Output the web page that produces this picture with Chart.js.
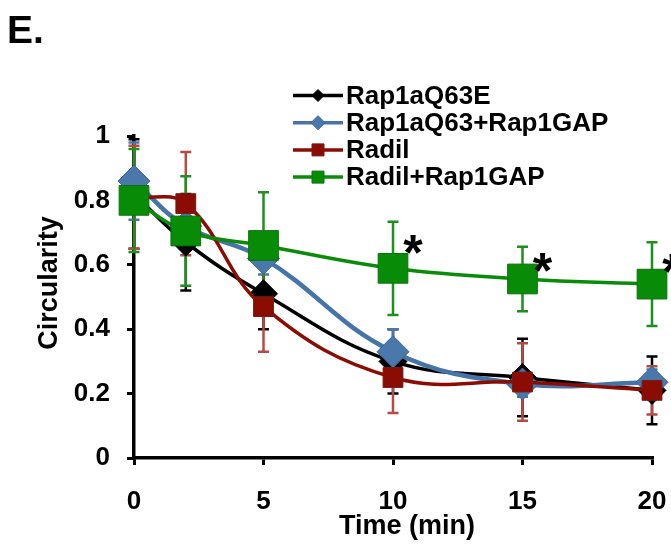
<!DOCTYPE html>
<html>
<head>
<meta charset="utf-8">
<script src="https://cdn.jsdelivr.net/npm/chart.js@4.4.1/dist/chart.umd.min.js"></script>
<style>
	html, body { margin: 0; padding: 0; background: #fff; }
	#cv { display: block; }
</style>
</head>
<body>
<canvas id="cv" width="671" height="544"></canvas>
<script>
'use strict'

// time points (min)
const times = [0, 2, 5, 10, 15, 20];

// mean circularity and error
const rap1aQ63E = [0.82, 0.67, 0.51, 0.30, 0.25, 0.21];
const rap1aQ63EErr = [0.17, 0.15, 0.11, 0.10, 0.12, 0.105];

const rap1aQ63Gap = [0.86, 0.72, 0.62, 0.33, 0.23, 0.235];
const rap1aQ63GapErr = [0.12, 0.06, 0.05, 0.07, 0.04, 0.04];

const radil = [0.81, 0.79, 0.47, 0.25, 0.236, 0.21];
const radilErr = [0.16, 0.16, 0.14, 0.11, 0.12, 0.075];

const radilGap = [0.80, 0.705, 0.66, 0.589, 0.556, 0.54];
const radilGapErr = [0.16, 0.17, 0.165, 0.145, 0.10, 0.13];

// points marked significant (*) on Radil+Rap1GAP
const sigIdx = [3, 4, 5];

const yTicks = [0, 0.2, 0.4, 0.6, 0.8, 1];
const xTicks = [0, 5, 10, 15, 20];

const FONT = "'Liberation Sans', Arial, sans-serif";

function toXY(vals) {
	return vals.map((v, i) => ({ x: times[i], y: v }));
}

// legend / error bar styling per series
const seriesInfo = [
	{ label: 'Rap1aQ63E', vals: rap1aQ63E, err: rap1aQ63EErr, line: '#000000', fill: '#000000', edge: '#000000', errColor: '#000000', shape: 'diamond', lr: 6 },
	{ label: 'Rap1aQ63+Rap1GAP', vals: rap1aQ63Gap, err: rap1aQ63GapErr, line: '#4674a8', fill: '#4a78ab', edge: '#3b6496', errColor: '#4a78ab', shape: 'diamond', lr: 7 },
	{ label: 'Radil', vals: radil, err: radilErr, line: '#8a0c02', fill: '#8a0c02', edge: '#7a1a10', errColor: '#b84a46', shape: 'square', lr: 6 },
	{ label: 'Radil+Rap1GAP', vals: radilGap, err: radilGapErr, line: '#0a8c0a', fill: '#088c08', edge: '#0a720a', errColor: '#1e901e', shape: 'square', lr: 6 }
];

//----------------------------------------------------------------------
// plugin: error bars behind the lines
const errorBars = {
	id: 'errorBars',
	beforeDatasetsDraw(chart) {
		const ctx = chart.ctx;
		const xs = chart.scales.x, ys = chart.scales.y;
		ctx.save();
		ctx.lineWidth = 2.5;
		seriesInfo.forEach((s) => {
			ctx.strokeStyle = s.errColor;
			s.vals.forEach((v, i) => {
				const px = xs.getPixelForValue(times[i]);
				const top = ys.getPixelForValue(v + s.err[i]);
				const bot = ys.getPixelForValue(v - s.err[i]);
				ctx.beginPath();
				ctx.moveTo(px, top); ctx.lineTo(px, bot);
				ctx.moveTo(px - 5.5, top); ctx.lineTo(px + 5.5, top);
				ctx.moveTo(px - 5.5, bot); ctx.lineTo(px + 5.5, bot);
				ctx.stroke();
			});
		});
		ctx.restore();
	}
};

//----------------------------------------------------------------------
// plugin: panel letter, axis titles, legend, asterisks
const decorations = {
	id: 'decorations',
	afterDraw(chart) {
		const ctx = chart.ctx;
		const xs = chart.scales.x, ys = chart.scales.y;
		const area = chart.chartArea;
		ctx.save();
		ctx.fillStyle = '#000';

		// panel letter
		ctx.font = 'bold 39px ' + FONT;
		ctx.textAlign = 'left';
		ctx.textBaseline = 'alphabetic';
		ctx.fillText('E.', 7, 43);

		// axis titles
		ctx.font = 'bold 27px ' + FONT;
		ctx.textAlign = 'center';
		ctx.fillText('Time (min)', area.left + (area.right - area.left) / 2 + 14, 534);
		ctx.save();
		ctx.translate(57, area.top + (area.bottom - area.top) / 2 - 14);
		ctx.rotate(-Math.PI / 2);
		ctx.fillText('Circularity', 0, 0);
		ctx.restore();

		// asterisks
		ctx.font = 'bold 50px ' + FONT;
		const m = ctx.measureText('*');
		const inkMid = (m.actualBoundingBoxAscent - m.actualBoundingBoxDescent) / 2;
		sigIdx.forEach((i) => {
			const px = xs.getPixelForValue(times[i]) + 20;
			const py = ys.getPixelForValue(radilGap[i] + radilGapErr[i] / 2);
			ctx.fillText('*', px, py + inkMid);
		});

		// legend
		const lx0 = 293, lx1 = 343, ly0 = 95.5, lstep = 27.2;
		ctx.font = 'bold 26px ' + FONT;
		ctx.textAlign = 'left';
		ctx.textBaseline = 'middle';
		seriesInfo.forEach((s, k) => {
			const y = ly0 + k * lstep;
			const cx = (lx0 + lx1) / 2;
			ctx.strokeStyle = s.line;
			ctx.lineWidth = 3.5;
			ctx.beginPath();
			ctx.moveTo(lx0, y); ctx.lineTo(lx1, y);
			ctx.stroke();
			ctx.fillStyle = s.fill;
			ctx.strokeStyle = s.edge;
			ctx.lineWidth = 1;
			ctx.beginPath();
			if (s.shape === 'diamond') {
				ctx.moveTo(cx, y - s.lr); ctx.lineTo(cx + s.lr, y);
				ctx.lineTo(cx, y + s.lr); ctx.lineTo(cx - s.lr, y);
				ctx.closePath();
			} else {
				ctx.rect(cx - s.lr, y - s.lr, 2 * s.lr, 2 * s.lr);
			}
			ctx.fill();
			ctx.stroke();
			ctx.fillStyle = '#000';
			ctx.fillText(s.label, 346, y + 1);
		});
		ctx.restore();
	}
};

//----------------------------------------------------------------------
const datasets = [
	{
		label: 'Rap1aQ63E', data: toXY(rap1aQ63E), order: 4,
		borderColor: '#000000', borderWidth: 3.5,
		pointStyle: 'rectRot', pointRadius: 14, pointBackgroundColor: '#000000', pointBorderColor: '#000000', pointBorderWidth: 1
	},
	{
		label: 'Rap1aQ63+Rap1GAP', data: toXY(rap1aQ63Gap), order: 3,
		borderColor: '#4674a8', borderWidth: 4.5,
		pointStyle: 'rectRot', pointRadius: 16, pointBackgroundColor: '#4a78ab', pointBorderColor: '#3b6496', pointBorderWidth: 1
	},
	{
		label: 'Radil', data: toXY(radil), order: 2,
		borderColor: '#8a0c02', borderWidth: 3.5,
		pointStyle: 'rect', pointRadius: 14, pointBackgroundColor: '#8a0c02', pointBorderColor: '#7a1a10', pointBorderWidth: 1
	},
	{
		label: 'Radil+Rap1GAP', data: toXY(radilGap), order: 1,
		borderColor: '#0a8c0a', borderWidth: 3.5,
		pointStyle: 'rect', pointRadius: 21, pointBackgroundColor: '#088c08', pointBorderColor: '#0a720a', pointBorderWidth: 1
	}
];

const axisFont = { family: FONT, weight: 'bold', size: 26 };

const chart = new Chart(document.getElementById('cv').getContext('2d'), {
	type: 'line',
	data: { datasets: datasets },
	options: {
		responsive: false,
		animation: false,
		devicePixelRatio: 1,
		layout: { autoPadding: false, padding: { top: 136, right: 19, left: 0, bottom: 0 } },
		elements: { line: { tension: 0.4, fill: false } },
		datasets: { line: { clip: false } },
		plugins: {
			legend: { display: false },
			tooltip: { enabled: false },
			title: { display: false }
		},
		scales: {
			x: {
				type: 'linear', min: 0, max: 20,
				afterBuildTicks: (s) => { s.ticks = xTicks.map((v) => ({ value: v })); },
				afterFit: (s) => { s.height = 86; s.paddingLeft = 0; s.paddingRight = 0; },
				ticks: { font: axisFont, color: '#000', padding: 21, maxRotation: 0 },
				grid: { drawOnChartArea: false, drawTicks: true, tickLength: 7, color: '#000', lineWidth: 3 },
				border: { display: true, color: '#000', width: 3.5 }
			},
			y: {
				type: 'linear', min: 0, max: 1,
				afterBuildTicks: (s) => { s.ticks = yTicks.map((v) => ({ value: v })); },
				afterFit: (s) => { s.width = 134; },
				ticks: { font: axisFont, color: '#000', padding: 17, callback: (v) => String(v) },
				grid: { drawOnChartArea: false, drawTicks: true, tickLength: 7, color: '#000', lineWidth: 3 },
				border: { display: true, color: '#000', width: 3.5 }
			}
		}
	},
	plugins: [errorBars, decorations]
});
</script>
</body>
</html>
